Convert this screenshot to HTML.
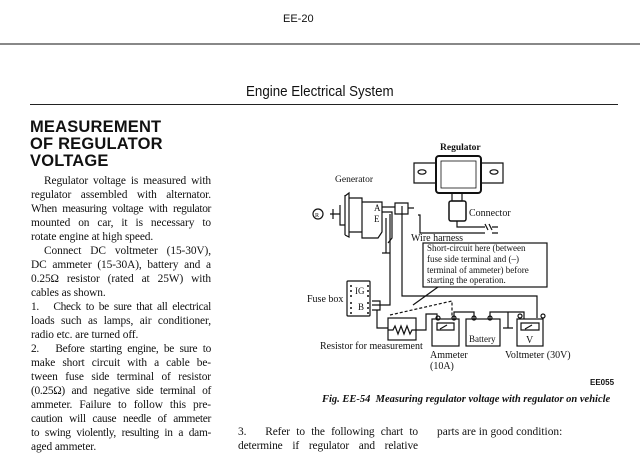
<!DOCTYPE html>
<html><head><meta charset="utf-8"><style>
body{margin:0;width:640px;height:470px;background:#fff;position:relative;overflow:hidden;font-family:"Liberation Serif",serif;color:#111}
.a{position:absolute;white-space:nowrap}
.l{position:absolute;left:31px;width:180px;font-size:11.4px;line-height:14px;text-align:justify;text-align-last:justify;white-space:nowrap;letter-spacing:-0.1px}
.n{text-align-last:left}
.h{position:absolute;left:30px;font:bold 17px/17px "Liberation Sans",sans-serif;letter-spacing:0.2px;transform:scaleX(0.97);transform-origin:left}
svg text{font-family:"Liberation Serif",serif}
</style></head><body>
<div class="a" style="left:283px;top:13px;font:11px 'Liberation Sans',sans-serif">EE-20</div>
<div class="a" style="left:0;top:43px;width:640px;height:2px;background:#888"></div>
<div class="a" style="left:246px;top:83px;font:15px 'Liberation Sans',sans-serif;transform:scaleX(0.89);transform-origin:left">Engine Electrical System</div>
<div class="a" style="left:30px;top:104px;width:588px;height:1px;background:#222"></div>
<div class="h" style="top:118px">MEASUREMENT</div>
<div class="h" style="top:135px">OF REGULATOR</div>
<div class="h" style="top:152px">VOLTAGE</div>
<div class="l" style="top:174px;left:44px;width:167px">Regulator voltage is measured with</div>
<div class="l" style="top:188px">regulator assembled with alternator.</div>
<div class="l" style="top:202px;letter-spacing:-0.35px">When measuring voltage with regulator</div>
<div class="l" style="top:216px">mounted on car, it is necessary to</div>
<div class="l n" style="top:230px">rotate engine at high speed.</div>
<div class="l" style="top:244px;left:44px;width:167px">Connect DC voltmeter (15-30V),</div>
<div class="l" style="top:258px">DC ammeter (15-30A), battery and a</div>
<div class="l" style="top:272px">0.25Ω resistor (rated at 25W) with</div>
<div class="l n" style="top:286px">cables as shown.</div>
<div class="l" style="top:300px;letter-spacing:-0.3px">1.&nbsp;&nbsp;&nbsp;Check to be sure that all electrical</div>
<div class="l" style="top:314px">loads such as lamps, air conditioner,</div>
<div class="l n" style="top:328px">radio etc. are turned off.</div>
<div class="l" style="top:342px;letter-spacing:-0.3px">2.&nbsp;&nbsp;&nbsp;Before starting engine, be sure to</div>
<div class="l" style="top:356px">make short circuit with a cable be-</div>
<div class="l" style="top:370px">tween fuse side terminal of resistor</div>
<div class="l" style="top:384px;letter-spacing:-0.3px">(0.25Ω) and negative side terminal of</div>
<div class="l" style="top:398px">ammeter. Failure to follow this pre-</div>
<div class="l" style="top:412px;letter-spacing:-0.3px">caution will cause needle of ammeter</div>
<div class="l" style="top:426px;letter-spacing:-0.3px">to swing violently, resulting in a dam-</div>
<div class="l n" style="top:440px">aged ammeter.</div>
<div class="l" style="top:425px;left:238px;width:180px">3.&nbsp;&nbsp;&nbsp;Refer to the following chart to</div>
<div class="l" style="top:439px;left:238px;width:180px">determine if regulator and relative</div>
<div class="a" style="left:437px;top:425px;font-size:11.4px;line-height:14px">parts are in good condition:</div>
<div class="a" style="left:590px;top:378px;font:bold 8px 'Liberation Sans',sans-serif">EE055</div>
<div class="a" style="left:322px;top:394px;font:italic bold 10.5px 'Liberation Serif',serif">Fig. EE-54&nbsp; Measuring regulator voltage with regulator on vehicle</div>
<svg class="a" style="left:0;top:0" width="640" height="470" viewBox="0 0 640 470" fill="none" stroke="#111" stroke-width="1.2">
<g font-size="10" fill="#111" stroke="none">
<text x="440" y="150" font-weight="bold" font-size="9.5">Regulator</text>
<text x="335" y="182" font-size="9.5">Generator</text>
<text x="469" y="216">Connector</text>
<text x="411" y="241">Wire harness</text>
<text x="307" y="302">Fuse box</text>
<text x="320" y="349">Resistor for measurement</text>
<text x="430" y="358">Ammeter</text>
<text x="430" y="369">(10A)</text>
<text x="505" y="358">Voltmeter (30V)</text>
<text x="427" y="251" font-size="9">Short-circuit here (between</text>
<text x="427" y="262" font-size="9">fuse side terminal and (–)</text>
<text x="427" y="273" font-size="9">terminal of ammeter) before</text>
<text x="427" y="283" font-size="9">starting the operation.</text>
<text x="374" y="211" font-size="9" font-family="Liberation Sans">A</text>
<text x="374" y="222" font-size="9" font-family="Liberation Sans">E</text>
<text x="355" y="294" font-size="9" font-family="Liberation Sans">IG</text>
<text x="358" y="310" font-size="9" font-family="Liberation Sans">B</text>
<text x="469" y="342" font-size="9">Battery</text>
<text x="526" y="343" font-size="10" font-family="Liberation Sans">V</text>
</g>
<path d="M414 163 H503 V183 H414 Z"/>
<rect x="436" y="156" width="45" height="37" rx="3" fill="#fff" stroke-width="2"/>
<rect x="441" y="161" width="35" height="27" stroke-width="0.8"/>
<ellipse cx="422" cy="172" rx="4" ry="2.2"/><ellipse cx="494" cy="172" rx="4" ry="2.2"/>
<rect x="452" y="193" width="10" height="8"/>
<rect x="449" y="201" width="17" height="20" rx="2" stroke-width="1.5"/>
<path d="M457 221 V227 H485 M418 215 H420 V233 H485 M485 224 l3 6 M489 224 l3 6 M492 227 H498 M492 233 H498"/>
<path d="M345 195 V235 M345 196 l4 -3 V237 l-4 -2 M349 198 H362 V232 H349 M362 202 H382 V232 L378 238 H362 Z M340 205 V225 H345 M330 214 H340 M333 209 V219"/>
<circle cx="318" cy="214" r="5"/>
<text x="315" y="217" font-size="6" fill="#111" stroke="none">R</text>
<path d="M382 207 H395 M395 203 H408 V214 H395 Z M408 208 H414 M382 212 H392 V238 L388 243"/>
<path d="M402 206 V296 H537 V318" />
<path d="M390 214 V305 H372 M372 301 H380 V310 H372 M377 310 V328 H388 M386 218 V253 M382 253 H390"/>
<rect x="347" y="281" width="23" height="35" rx="1"/>
<g fill="#111" stroke="none">
<circle cx="351" cy="286" r="1"/><circle cx="351" cy="291" r="1"/><circle cx="351" cy="296" r="1"/><circle cx="351" cy="303" r="1"/><circle cx="351" cy="308" r="1"/><circle cx="351" cy="313" r="1"/>
<circle cx="368" cy="286" r="1"/><circle cx="368" cy="291" r="1"/><circle cx="368" cy="296" r="1"/><circle cx="368" cy="303" r="1"/><circle cx="368" cy="308" r="1"/><circle cx="368" cy="313" r="1"/>
</g>
<rect x="388" y="318" width="28" height="22"/>
<path d="M388 330 H393 l2 -4 l3 8 l3 -8 l3 8 l3 -8 l3 8 l2 -4 H416"/>
<path d="M416 330 H426 V314 H437 V320"/>
<path d="M390 315 L452 301 V318" stroke-dasharray="3 2"/>
<rect x="423" y="243" width="124" height="44"/>
<path d="M438 287 L413 305"/>
<rect x="432" y="319" width="27" height="27"/><path d="M437 323 H454 V330 H437 Z M440 329 L447 325"/>
<rect x="466" y="319" width="34" height="27"/>
<rect x="517" y="319" width="26" height="27"/><path d="M521 323 H539 V330 H521 Z M525 329 L532 325"/>
<path d="M454 319 V312 H474 V319 M490 319 V312 H524 V319 M508 312 V328 M503 328 H513"/>
<circle cx="438" cy="318" r="2"/><circle cx="454" cy="318" r="2"/><circle cx="474" cy="318" r="2"/><circle cx="490" cy="318" r="2"/><circle cx="520" cy="316" r="2"/><circle cx="543" cy="316" r="2"/>
</svg>
</body></html>
